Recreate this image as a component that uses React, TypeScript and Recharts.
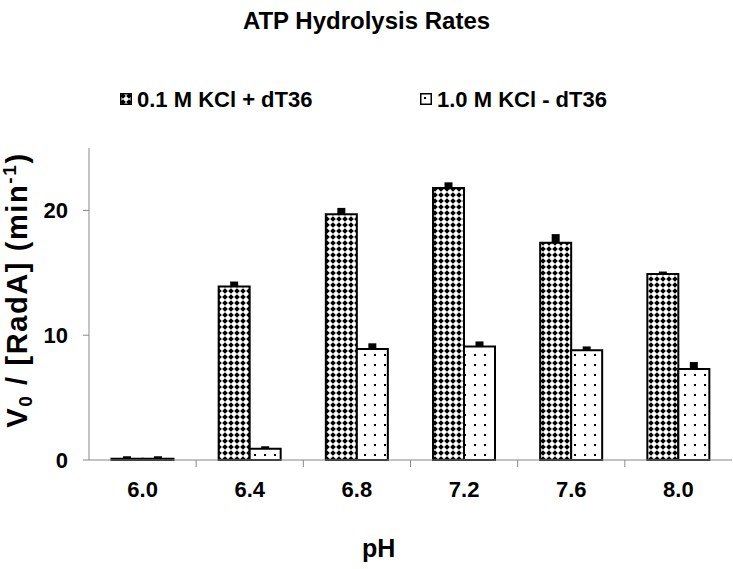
import React from 'react';
import { BarChart, Bar, XAxis, YAxis, ErrorBar, Legend } from 'recharts';

const categories = ['6.0', '6.4', '6.8', '7.2', '7.6', '8.0'];
const seriesNames = ['0.1 M KCl + dT36', '1.0 M KCl - dT36'];
const withDt36 = [0.1, 13.9, 19.7, 21.8, 17.4, 14.9];
const withoutDt36 = [0.1, 0.9, 8.9, 9.1, 8.8, 7.3];
const errWithDt36 = [0.2, 0.4, 0.5, 0.45, 0.7, 0.2];
const errWithoutDt36 = [0.2, 0.2, 0.45, 0.4, 0.3, 0.55];
const yTicks = [0, 10, 20];

const data = categories.map((c, i) => ({
  ph: c,
  a: withDt36[i],
  b: withoutDt36[i],
  ea: [0, errWithDt36[i]],
  eb: [0, errWithoutDt36[i]],
}));

const FONT = '"Liberation Sans", Arial, sans-serif';
const W = 733;
const H = 569;

const XTick = (props: any) => {
  const { x, y, payload, index } = props;
  const off = payload && typeof payload.offset === 'number' && payload.offset > 0 ? payload.offset : 53.5;
  return (
    <g>
      {index < categories.length - 1 && (
        <line x1={x + off} x2={x + off} y1={y} y2={y + 7} stroke="#888" strokeWidth={1} />
      )}
      <text x={x} y={y + 37} textAnchor="middle" fontFamily={FONT} fontWeight="bold" fontSize={22} fill="#000">
        {payload.value}
      </text>
    </g>
  );
};

const YLabel = () => (
  <text
    transform="translate(27,290) rotate(-90)"
    textAnchor="middle"
    fontFamily={FONT}
    fontWeight="bold"
    fontSize={29}
    letterSpacing={1.6}
    fill="#000"
  >
    <tspan>V</tspan>
    <tspan fontSize={19} dy={5}>0</tspan>
    <tspan dy={-5}> / [RadA] (min</tspan>
    <tspan fontSize={19} dy={-11}>-1</tspan>
    <tspan dy={11}>)</tspan>
  </text>
);

const LegendContent = () => {
  const items = [
    { name: seriesNames[0], fill: 'url(#patDark)', left: 120 },
    { name: seriesNames[1], fill: 'url(#patLight)', left: 420 },
  ];
  return (
    <div style={{ position: 'relative', width: W, height: 24 }}>
      {items.map((it) => (
        <div key={it.name}>
          <svg
            width={12}
            height={12}
            style={{ position: 'absolute', left: it.left, top: 4 }}
          >
            <rect x={0.75} y={0.75} width={10.5} height={10.5} fill={it.fill} stroke="#000" strokeWidth={1.5} />
          </svg>
          <span
            style={{
              position: 'absolute',
              left: it.left + 17,
              top: 0,
              fontFamily: FONT,
              fontWeight: 'bold',
              fontSize: 22,
              lineHeight: '22px',
              whiteSpace: 'nowrap',
              color: '#000',
            }}
          >
            {it.name}
          </span>
        </div>
      ))}
    </div>
  );
};

export default function App() {
  return (
    <div style={{ position: 'absolute', left: 0, top: 0, width: W, height: H, background: '#fff' }}>
      <svg width={0} height={0} style={{ position: 'absolute' }}>
        <defs>
          <pattern id="patDark" patternUnits="userSpaceOnUse" width={6} height={6}>
            <rect x={0} y={0} width={6} height={6} fill="#fff" />
            <polygon points="3,0.2 5.8,3 3,5.8 0.2,3" fill="#000" />
          </pattern>
          <pattern id="patLight" patternUnits="userSpaceOnUse" width={10} height={10}>
            <rect x={0} y={0} width={10} height={10} fill="#fff" />
            <rect x={4} y={4} width={2} height={2} fill="#000" />
          </pattern>
        </defs>
      </svg>
      <div
        style={{
          position: 'absolute',
          left: 0,
          top: 9,
          width: W,
          textAlign: 'center',
          fontFamily: FONT,
          fontWeight: 'bold',
          fontSize: 24,
          lineHeight: '24px',
          color: '#000',
        }}
      >
        ATP Hydrolysis Rates
      </div>
      <div
        style={{
          position: 'absolute',
          left: 0,
          top: 536,
          width: W,
          fontFamily: FONT,
          fontWeight: 'bold',
          fontSize: 25,
          lineHeight: '25px',
          color: '#000',
        }}
      >
        <span style={{ position: 'absolute', left: 362, top: 0 }}>pH</span>
      </div>
      <BarChart
        width={W}
        height={H}
        data={data}
        margin={{ top: 148, right: 1, left: 0, bottom: 0 }}
        barCategoryGap="21%"
        barGap={0}
      >
        <XAxis
          dataKey="ph"
          height={109}
          stroke="#888"
          tickLine={false}
          tickSize={0}
          tickMargin={0}
          tick={<XTick />}
          interval={0}
        />
        <YAxis
          width={89}
          domain={[0, 25]}
          ticks={yTicks}
          stroke="#888"
          tickSize={6}
          tickMargin={15}
          tick={{ fontFamily: FONT, fontWeight: 'bold', fontSize: 22, fill: '#000' }}
          label={{ content: () => <YLabel /> }}
        />
        <Legend
          verticalAlign="middle"
          align="center"
          layout="horizontal"
          content={() => <LegendContent />}
          wrapperStyle={{ top: 89, left: 0, width: W, height: 24 }}
        />
        <Bar dataKey="a" name={seriesNames[0]} fill="url(#patDark)" stroke="#000" strokeWidth={2} isAnimationActive={false}>
          <ErrorBar dataKey="ea" direction="y" width={0} stroke="#000" strokeWidth={8} isAnimationActive={false} />
        </Bar>
        <Bar dataKey="b" name={seriesNames[1]} fill="url(#patLight)" stroke="#000" strokeWidth={2} isAnimationActive={false}>
          <ErrorBar dataKey="eb" direction="y" width={0} stroke="#000" strokeWidth={8} isAnimationActive={false} />
        </Bar>
      </BarChart>
    </div>
  );
}
